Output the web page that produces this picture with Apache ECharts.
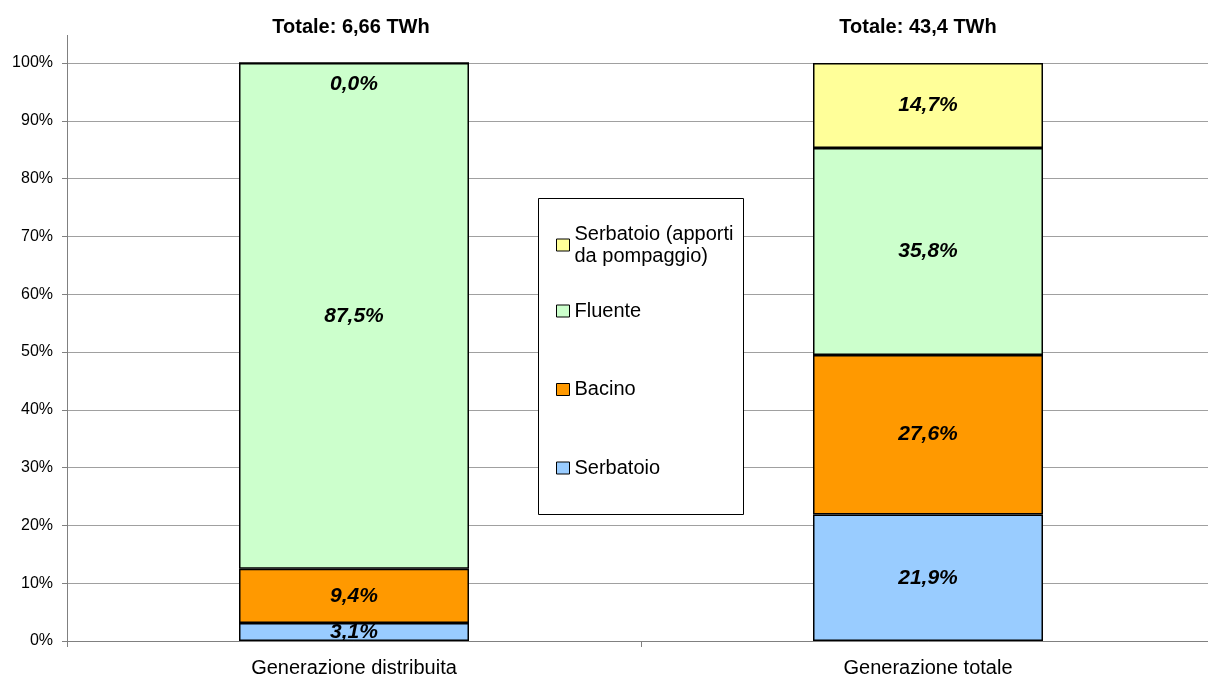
<!DOCTYPE html>
<html>
<head>
<meta charset="utf-8">
<script src="https://cdn.jsdelivr.net/npm/echarts@6/dist/echarts.min.js"></script>
<style>
  html, body { margin: 0; padding: 0; background: #fff; overflow: hidden; }
  #chart { width: 1215px; height: 680px; }
</style>
</head>
<body>
<div id="chart"></div>
<script>
// categorie e totali
const categories = ['Generazione distribuita', 'Generazione totale']
const totals = ['Totale: 6,66 TWh', 'Totale: 43,4 TWh']

// quote percentuali (dal basso verso l'alto)
const serbatoio = [3.1, 21.9]
const bacino = [9.4, 27.6]
const fluente = [87.5, 35.8]
const pompaggio = [0.0, 14.7]

const yTicks = [0, 10, 20, 30, 40, 50, 60, 70, 80, 90, 100]

const FONT = '"Liberation Sans", Arial, sans-serif'
const POMP_NAME = 'Serbatoio (apporti\nda pompaggio)'

const myChart = echarts.init(document.getElementById('chart'))

function fmt(v) {
  return v.toFixed(1).replace('.', ',') + '%'
}

function makeSeries(name, values, color) {
  return {
    name: name,
    type: 'bar',
    stack: 'tot',
    barWidth: 230,
    data: values.map(function (v) {
      const item = { value: v }
      // segmento nullo: etichetta appena sotto il bordo superiore
      if (v === 0) {
        item.label = { position: 'insideTop', distance: 11 }
      }
      return item
    }),
    itemStyle: {
      color: color,
      borderColor: '#000',
      borderWidth: 1.5
    },
    label: {
      show: true,
      position: 'inside',
      formatter: function (p) { return fmt(p.value) },
      color: '#000',
      fontFamily: FONT,
      fontSize: 21,
      fontWeight: 'bold',
      fontStyle: 'italic'
    },
    emphasis: { disabled: true }
  }
}

const option = {
  animation: false,
  backgroundColor: '#fff',
  grid: {
    left: 67,
    top: 63,
    right: 0,
    height: 578
  },
  xAxis: {
    type: 'category',
    data: categories,
    axisLine: { lineStyle: { color: '#808080', width: 1 } },
    axisTick: { show: true, alignWithLabel: false, length: 6, lineStyle: { color: '#808080' } },
    axisLabel: { color: '#000', fontFamily: FONT, fontSize: 20, margin: 17 },
    splitLine: { show: false }
  },
  yAxis: {
    type: 'value',
    min: yTicks[0],
    max: yTicks[yTicks.length - 1],
    interval: 10,
    axisLine: { show: true, lineStyle: { color: '#808080', width: 1 } },
    axisTick: { show: true, length: 5, lineStyle: { color: '#808080' } },
    axisLabel: { color: '#000', fontFamily: FONT, fontSize: 16, margin: 14, formatter: '{value}%' },
    splitLine: { show: true, lineStyle: { color: '#a0a0a0', width: 1 } }
  },
  legend: [
    {
      data: [POMP_NAME],
      left: 551,
      top: 218,
      orient: 'vertical',
      icon: 'rect',
      itemWidth: 13,
      itemHeight: 12,
      z: 10,
      itemStyle: { borderColor: '#000', borderWidth: 1 },
      textStyle: { color: '#000', fontFamily: FONT, fontSize: 20, lineHeight: 22 },
      selectedMode: false
    },
    {
      data: ['Fluente', 'Bacino', 'Serbatoio'],
      left: 551,
      top: 296,
      orient: 'vertical',
      icon: 'rect',
      itemWidth: 13,
      itemHeight: 12,
      itemGap: 58.5,
      z: 10,
      itemStyle: { borderColor: '#000', borderWidth: 1 },
      textStyle: { color: '#000', fontFamily: FONT, fontSize: 20 },
      selectedMode: false
    }
  ],
  graphic: [
    {
      type: 'rect',
      z: 3,
      shape: { x: 538.5, y: 198.5, width: 205, height: 316 },
      style: { fill: '#fff', stroke: '#000', lineWidth: 1 }
    },
    {
      type: 'line',
      z: 3,
      shape: { x1: 67.5, y1: 35, x2: 67.5, y2: 63 },
      style: { stroke: '#808080', lineWidth: 1 }
    },
    {
      type: 'text',
      x: 351, y: 27,
      style: {
        text: totals[0], fill: '#000', font: 'bold 20px ' + FONT,
        textAlign: 'center', textVerticalAlign: 'middle'
      }
    },
    {
      type: 'text',
      x: 918, y: 27,
      style: {
        text: totals[1], fill: '#000', font: 'bold 20px ' + FONT,
        textAlign: 'center', textVerticalAlign: 'middle'
      }
    }
  ],
  series: [
    makeSeries('Serbatoio', serbatoio, '#99CCFF'),
    makeSeries('Bacino', bacino, '#FF9900'),
    makeSeries('Fluente', fluente, '#CCFFCC'),
    makeSeries(POMP_NAME, pompaggio, '#FFFF99')
  ]
}

myChart.setOption(option)
</script>
</body>
</html>
